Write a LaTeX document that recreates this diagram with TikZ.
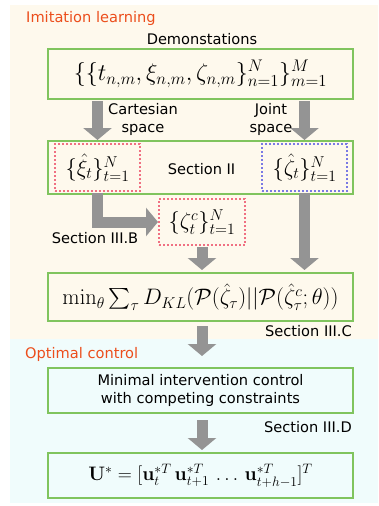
\RequirePackage{fix-cm}
\documentclass[tikz,border=0pt]{standalone}
\usepackage{amsmath}
\usepackage[no-math]{fontspec}
\newfontfamily\dv{DejaVu Sans}
\usetikzlibrary{arrows.meta,calc}
\definecolor{cream}{RGB}{254,249,237}
\definecolor{lcyan}{RGB}{240,252,252}
\definecolor{boxgreen}{RGB}{128,196,94}
\definecolor{titleorange}{RGB}{236,78,28}
\definecolor{dotpink}{RGB}{240,112,130}
\definecolor{dotblue}{RGB}{122,122,228}
\definecolor{arrowgray}{RGB}{148,148,148}
\newcommand{\mfont}[1]{\fontsize{#1}{#1}\selectfont}
\begin{document}
\begin{tikzpicture}[x=1pt,y=-1pt,
  txt/.style={font=\dv\fontsize{14.6}{18}\selectfont, inner sep=0pt},
  gbox/.style={draw=boxgreen, line width=2pt, minimum width=305pt, inner sep=0pt, font=\mfont{22.5}},
  dotbox/.style={line width=2pt, dash pattern=on 2pt off 2pt, minimum width=85pt, minimum height=47pt, inner sep=0pt, font=\mfont{22.5}},
  barrow/.style={draw=arrowgray, line width=11pt, line join=miter, -{Triangle[width=28pt,length=12pt]}}]
\useasboundingbox (0,0) rectangle (378,506);
\fill[cream] (10,5) rectangle (378,339);
\fill[lcyan] (10,339) rectangle (378,503);

% nodes
\node[txt, text=titleorange, anchor=west] (t1) at (26,18) {Imitation learning};
\node[txt] (demo) at (202,39) {Demonstations};
\node[gbox, minimum height=50pt, font=\mfont{24}] (box1) at (200.5,74) {$\{\{t_{n,m},\xi_{n,m},\zeta_{n,m}\}_{n=1}^{N}\}_{m=1}^{M}$};
\node[txt, align=center] (cart) at (143,119) {Cartesian\\space};
\node[txt, align=center] (joint) at (271,119) {Joint\\space};
\node[gbox, minimum height=53pt] (box2) at (200.5,167.5) {};
\node[dotbox, draw=dotpink] (red1) at (97.5,167.5) {$\{\hat{\xi}_t\}_{t=1}^{N}$};
\node[dotbox, draw=dotblue] (blue1) at (304.5,167.5) {$\{\hat{\zeta}_t\}_{t=1}^{N}$};
\node[txt] (s2) at (201.5,169) {Section II};
\node[dotbox, draw=dotpink, minimum width=86pt, minimum height=46pt] (red2) at (202,222) {$\{\zeta^{c}_t\}_{t=1}^{N}$};
\node[txt] (s3b) at (95,238) {Section III.B};
\node[gbox, minimum height=48pt, font=\mfont{22.4}] (box3) at (200.5,297) {$\min_{\theta}\sum_{\tau} D_{KL}(\mathcal{P}(\hat{\zeta}_{\tau})||\mathcal{P}(\hat{\zeta}^{c}_{\tau};\theta))$};
\node[txt, anchor=east] (s3c) at (352,331) {Section III.C};
\node[txt, text=titleorange, anchor=west] (t2) at (25,354) {Optimal control};
\node[gbox, minimum height=45pt, font=\dv\fontsize{14.6}{18}\selectfont, align=center] (box4) at (200.5,390.5) {\raisebox{-3pt}{\begin{tabular}{@{}c@{}}Minimal intervention control\\[0pt]with competing constraints\end{tabular}}};
\node[txt, anchor=east] (s3d) at (352,427) {Section III.D};
\node[gbox, minimum height=45pt, font=\mfont{19.5}] (box5) at (200.5,475.5) {$\mathbf{U}^{*}=[\mathbf{u}_t^{*T}\,\mathbf{u}_{t+1}^{*T}\,\ldots\,\mathbf{u}_{t+h-1}^{*T}]^{T}$};

% arrows
\draw[barrow, shorten <=1pt] (box1.south -| red1.north) -- (box2.north -| red1.north);
\draw[barrow, shorten <=1pt] (box1.south -| blue1.north) -- (box2.north -| blue1.north);
\draw[barrow, shorten <=1pt] (red1.south) |- (red2.west);
\draw[barrow, shorten <=1pt, shorten >=2pt] (red2.south) -- (box3.north -| red2.south);
\draw[barrow, shorten <=1pt, shorten >=2pt] (blue1.south) -- (box3.north -| blue1.south);
\draw[barrow, shorten <=4pt, shorten >=11pt] (box3.south -| red2.south) -- (box4.north -| red2.south);
\draw[barrow, shorten <=6pt, shorten >=2pt] (box4.south -| red2.south) -- (box5.north -| red2.south);
\end{tikzpicture}
\end{document}
